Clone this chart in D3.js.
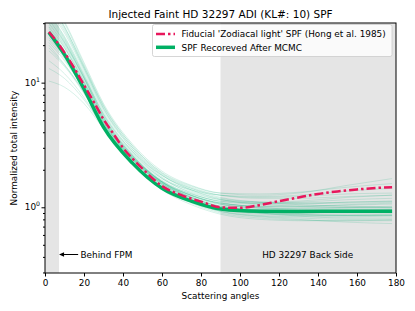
<!DOCTYPE html>
<html><head><meta charset="utf-8">
<script src="https://cdn.jsdelivr.net/npm/d3@7"></script>
<style>body{margin:0;background:#fff}svg{display:block;font-family:"DejaVu Sans",sans-serif}</style>
</head><body><svg id="c" width="415" height="311"></svg>
<script>
const angles = [2, 10, 20, 30, 45, 60, 75, 90, 110, 130, 155, 178];
const fidAngles = [2,5,10,15,20,25,30,35,40,45,50,60,70,80,90,100,110,120,130,140,150,160,170,178];
const fiducial = [25.5,22.4,17.4,13.1,9.55,7.0,5.08,3.9,3.0,2.45,2.04,1.48,1.25,1.11,1.0,0.99,1.04,1.12,1.2,1.28,1.34,1.39,1.43,1.45];
const recovered = [25.3,16.8,8.9,4.4,2.25,1.42,1.12,0.97,0.93,0.925,0.93,0.93];
const samples = [
 [32,21,11,5.3,2.6,1.6,1.25,1.08,1.02,1.0,1.0,1.0],
 [28,18,9.5,4.8,2.4,1.5,1.15,0.98,0.92,0.9,0.9,0.9],
 [40,26,13,6.2,2.9,1.75,1.35,1.15,1.08,1.08,1.1,1.12],
 [22,15.5,8.7,4.5,2.3,1.45,1.1,0.93,0.86,0.84,0.84,0.85],
 [18,13.5,8.2,4.6,2.45,1.55,1.2,1.02,0.95,0.93,0.92,0.92],
 [10.3,9.2,6.8,4.3,2.4,1.55,1.2,1.02,0.95,0.94,0.95,0.96],
 [36,23,11.5,5.5,2.7,1.7,1.38,1.25,1.22,1.25,1.35,1.42],
 [30,20,10.5,5.2,2.6,1.62,1.25,1.06,0.98,0.95,0.95,0.96],
 [26,17.5,9.8,5.0,2.55,1.62,1.28,1.12,1.08,1.1,1.15,1.18],
 [45,28,13.5,6.5,3.1,1.9,1.48,1.3,1.28,1.32,1.45,1.55],
 [24,16,8.6,4.3,2.2,1.38,1.05,0.88,0.8,0.78,0.78,0.78],
 [34,22,11.2,5.6,2.8,1.8,1.42,1.25,1.2,1.22,1.28,1.3],
 [20,14,8.3,4.4,2.3,1.42,1.08,0.9,0.82,0.79,0.78,0.79],
 [38,25,12.5,6.0,2.9,1.8,1.38,1.18,1.1,1.08,1.08,1.1],
 [29,19,10,5.0,2.5,1.55,1.18,1.0,0.92,0.88,0.86,0.86],
 [15,11.8,7.6,4.4,2.4,1.52,1.16,0.98,0.9,0.87,0.86,0.86],
 [50,31,14.5,6.8,3.2,1.95,1.5,1.3,1.25,1.3,1.5,1.7],
 [27,18,9.8,4.9,2.45,1.5,1.12,0.93,0.85,0.82,0.8,0.8],
 [33,21.5,11,5.4,2.65,1.65,1.28,1.12,1.06,1.06,1.1,1.12],
 [23,16,9.2,4.8,2.5,1.6,1.25,1.08,1.02,1.02,1.05,1.08],
 [42,27,13,6.2,3.0,1.85,1.42,1.2,1.1,1.05,1.02,1.0],
 [31,20.5,10.8,5.3,2.6,1.6,1.2,1.0,0.9,0.85,0.82,0.82],
 [19,13.8,8.5,4.7,2.5,1.6,1.24,1.06,0.99,0.97,0.98,1.0],
 [36,23.5,12,5.8,2.8,1.72,1.3,1.1,1.0,0.96,0.93,0.92],
 [25,17,9.3,4.7,2.4,1.48,1.12,0.95,0.88,0.86,0.86,0.87],
 [48,30,14,6.6,3.1,1.88,1.45,1.25,1.18,1.18,1.22,1.25],
 [28,19,10.2,5.1,2.55,1.58,1.22,1.05,0.99,0.98,1.0,1.02],
 [21,15,8.8,4.6,2.35,1.45,1.1,0.92,0.84,0.8,0.76,0.74],
 [35,22.5,11.5,5.6,2.75,1.7,1.32,1.15,1.1,1.12,1.2,1.25],
 [30,19.5,10.2,5.0,2.5,1.55,1.17,0.98,0.9,0.87,0.87,0.88],
 [13,10.8,7.3,4.4,2.45,1.58,1.24,1.08,1.02,1.02,1.04,1.06],
 [26,17.5,9.5,4.8,2.45,1.52,1.15,0.97,0.9,0.9,0.92,0.94],
 [44,28,13.5,6.4,3.0,1.82,1.38,1.16,1.06,1.02,1.0,0.98],
 [32,21,10.8,5.2,2.55,1.58,1.2,1.02,0.95,0.93,0.92,0.92]
];
const xTicks = [0,20,40,60,80,100,120,140,160,180];
const yMajor = [1,10];
const fpmRange = [0, 7.2];
const backRange = [90, 180];
const title = "Injected Faint HD 32297 ADI (KL#: 10) SPF";
const legendLabels = ["Fiducial 'Zodiacal light' SPF (Hong et al. 1985)", "SPF Recoreved After MCMC"];

const FS = 8.9;
const svg = d3.select("#c");
const L=45, R=396, T=23, B=273;
const x = d3.scaleLinear().domain([0,180]).range([L,R]);
const y = d3.scaleLog().domain([0.297,30.1]).range([B,T]);
const red = "#e8175c", green = "#00b064";

svg.append("clipPath").attr("id","clip").append("rect").attr("x",L).attr("y",T).attr("width",R-L).attr("height",B-T);
const g = svg.append("g").attr("clip-path","url(#clip)");
g.append("rect").attr("x",x(fpmRange[0])).attr("y",T).attr("width",x(fpmRange[1])-x(fpmRange[0])).attr("height",B-T).attr("fill","#e5e5e5");
g.append("rect").attr("x",x(backRange[0])).attr("y",T).attr("width",x(backRange[1])-x(backRange[0])).attr("height",B-T).attr("fill","#e5e5e5");

const line = d3.line().x(d=>x(d[0])).y(d=>y(d[1])).curve(d3.curveMonotoneX);
samples.forEach(s=>{
  g.append("path").attr("d",line(angles.map((a,i)=>[a,s[i]]))).attr("fill","none")
   .attr("stroke","#00aa6e").attr("stroke-opacity",0.16).attr("stroke-width",1);
});
g.append("path").attr("d",line(angles.map((a,i)=>[a,recovered[i]]))).attr("fill","none").attr("stroke",green).attr("stroke-width",3.5);
g.append("path").attr("d",line(fidAngles.map((a,i)=>[a,fiducial[i]]))).attr("fill","none").attr("stroke",red).attr("stroke-width",2.5).attr("stroke-dasharray","9,3,2.5,3");

// axes
const xa = svg.append("g").attr("transform",`translate(0,${B})`).call(d3.axisBottom(x).tickValues(xTicks).tickSize(3.5).tickPadding(3));
xa.select(".domain").remove();
xa.selectAll("text").attr("font-size",FS).attr("font-family","DejaVu Sans").attr("fill","#000");
const minor=[];
[0.1,1,10].forEach(d=>{for(let k=2;k<=9;k++){const v=d*k; if(v>0.297&&v<30.1) minor.push(v);}});
const ya = svg.append("g").attr("transform",`translate(${L},0)`).call(d3.axisLeft(y).tickValues(minor).tickSize(2).tickFormat(""));
ya.select(".domain").remove();
const yb = svg.append("g").attr("transform",`translate(${L},0)`).call(d3.axisLeft(y).tickValues(yMajor).tickSize(3.5).tickFormat(()=>""));
yb.select(".domain").remove();
yMajor.forEach(v=>{
  const t = svg.append("text").attr("x",L-5).attr("y",y(v)+3).attr("text-anchor","end").attr("font-size",FS);
  t.append("tspan").text("10");
  t.append("tspan").attr("font-size",6.2).attr("dy",-3.8).text(Math.round(Math.log10(v)));
});
svg.append("rect").attr("x",L).attr("y",T).attr("width",R-L).attr("height",B-T).attr("fill","none").attr("stroke","#000").attr("stroke-width",1);

svg.append("text").attr("x",(L+R)/2).attr("y",18).attr("text-anchor","middle").attr("font-size",10.5).text(title);
svg.append("text").attr("x",(L+R)/2).attr("y",299).attr("text-anchor","middle").attr("font-size",FS).text("Scattering angles");
svg.append("text").attr("transform",`translate(17,${(T+B)/2}) rotate(-90)`).attr("text-anchor","middle").attr("font-size",FS).text("Normalized total intensity");

// annotations
svg.append("line").attr("x1",x(17)).attr("x2",x(7.2)+4).attr("y1",254.5).attr("y2",254.5).attr("stroke","#000").attr("stroke-width",1);
svg.append("path").attr("d",`M${x(7.2)},254.5 L${x(7.2)+5},252.3 L${x(7.2)+5},256.7 Z`).attr("fill","#000");
svg.append("text").attr("x",x(18.2)).attr("y",257.6).attr("font-size",FS).text("Behind FPM");
svg.append("text").attr("x",x(134.7)).attr("y",257.6).attr("text-anchor","middle").attr("font-size",FS).text("HD 32297 Back Side");

// legend
const lg = svg.append("g");
lg.append("rect").attr("x",152.5).attr("y",24.5).attr("width",239.5).attr("height",32).attr("rx",2).attr("fill","#fff").attr("fill-opacity",0.8).attr("stroke","#ccc").attr("stroke-width",0.8);
lg.append("line").attr("x1",156).attr("x2",175).attr("y1",34).attr("y2",34).attr("stroke",red).attr("stroke-width",2.5).attr("stroke-dasharray","9,3,2.5,3");
lg.append("line").attr("x1",156).attr("x2",175).attr("y1",47.3).attr("y2",47.3).attr("stroke",green).attr("stroke-width",3.5);
lg.append("text").attr("x",181.5).attr("y",37.2).attr("font-size",FS).text(legendLabels[0]);
lg.append("text").attr("x",181.5).attr("y",50.5).attr("font-size",FS).text(legendLabels[1]);
</script></body></html>
